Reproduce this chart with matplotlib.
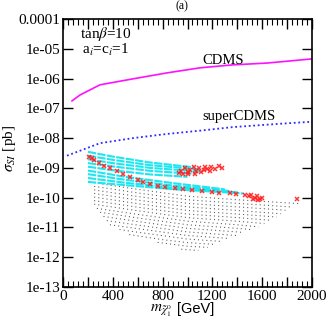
import numpy as np
import matplotlib
matplotlib.use('Agg')
import matplotlib.pyplot as plt
from matplotlib.ticker import FixedLocator, FixedFormatter, MultipleLocator, LogLocator, NullFormatter

plt.rcParams['font.family'] = 'Liberation Serif'
plt.rcParams['mathtext.fontset'] = 'stix'

# limit curves (mass in GeV, log10 of sigma in pb)
cdms_m = [72, 137, 297, 562, 835, 1100, 1365, 1638, 2000]
cdms_log = [-6.75, -6.55, -6.21, -6.01, -5.81, -5.64, -5.54, -5.48, -5.34]

scdms_m = [32, 297, 562, 835, 1100, 1365, 1735, 2000]
scdms_log = [-8.59, -8.17, -8.00, -7.86, -7.75, -7.63, -7.52, -7.45]

# cyan scan lines
cyan_m = [[200, 400, 700, 1050], [200, 400, 700, 1100], [200, 400, 700, 1100],
          [200, 400, 700, 1050], [200, 400, 700, 1000],
          [200, 500, 900, 1300], [200, 500, 900, 1350], [200, 500, 900, 1400],
          [200, 500, 900, 1450]]
cyan_log = [[-8.46, -8.62, -8.82, -8.98], [-8.59, -8.73, -8.91, -9.05], [-8.71, -8.84, -9.00, -9.12],
            [-8.84, -8.95, -9.10, -9.20], [-8.96, -9.08, -9.22, -9.30],
            [-9.09, -9.30, -9.52, -9.72], [-9.21, -9.40, -9.60, -9.78], [-9.34, -9.50, -9.67, -9.82],
            [-9.47, -9.58, -9.72, -9.86]]

# red points
red_m = [210, 230, 250, 290, 330, 380, 430, 480, 540, 600, 640, 700, 760, 820, 900, 960, 1040, 1120, 1200,
         1250, 1340, 1390,
         930, 950, 980, 1000, 1020, 1050, 1070, 1090, 1110, 1140, 1160, 1190, 1220, 1250, 1280, 1000, 1060, 1130,
         960, 1180,
         1460, 1490, 1510, 1540, 1560, 1580, 1600, 1530, 1570, 1880]
red_log = [-8.64, -8.68, -8.72, -8.82, -8.92, -9.02, -9.12, -9.22, -9.32, -9.40, -9.47, -9.55, -9.60, -9.64,
           -9.68, -9.72, -9.74, -9.78, -9.82, -9.85, -9.84, -9.86,
           -9.18, -9.10, -9.02, -9.15, -9.06, -8.98, -9.10, -9.02, -9.14, -8.96, -9.05, -8.98, -9.04, -8.95,
           -9.00, -9.22, -9.20, -9.08,
           -9.20, -9.10,
           -9.92, -9.96, -9.90, -10.00, -9.95, -10.04, -10.00, -10.05, -10.08, -10.04]

# black scan lines
black_m = [[250, 600, 1000, 1400, 1900], [250, 600, 1000, 1400, 1823], [250, 600, 1000, 1400, 1787],
           [250, 600, 1000, 1400, 1751], [250, 600, 1000, 1400, 1715], [250, 600, 1000, 1400, 1667],
           [250, 600, 1000, 1400, 1618], [272, 600, 1000, 1400, 1570], [298, 600, 1000, 1400, 1512],
           [325, 600, 1000, 1400, 1452], [351, 600, 1000, 1391], [377, 600, 1000, 1332],
           [454, 600, 1000, 1277], [532, 800, 1000, 1222], [760, 1000, 1164], [950, 1000, 1087]]
black_log = [[-9.50, -9.72, -9.95, -10.07, -10.20], [-9.62, -9.84, -10.07, -10.19, -10.31],
             [-9.74, -9.96, -10.19, -10.31, -10.42], [-9.86, -10.08, -10.31, -10.43, -10.54],
             [-9.98, -10.20, -10.43, -10.55, -10.65], [-10.10, -10.32, -10.55, -10.67, -10.76],
             [-10.22, -10.44, -10.67, -10.79, -10.87], [-10.36, -10.56, -10.79, -10.91, -10.98],
             [-10.49, -10.68, -10.91, -11.03, -11.07], [-10.63, -10.80, -11.03, -11.15, -11.17],
             [-10.77, -10.92, -11.15, -11.27], [-10.91, -11.04, -11.27, -11.37],
             [-11.07, -11.16, -11.39, -11.47], [-11.24, -11.41, -11.51, -11.57],
             [-11.50, -11.63, -11.67], [-11.73, -11.75, -11.77]]

ytick_vals = [1e-13, 1e-12, 1e-11, 1e-10, 1e-09, 1e-08, 1e-07, 1e-06, 1e-05, 1e-04]
ytick_labels = ['1e-13', '1e-12', '1e-11', '1e-10', '1e-09', '1e-08', '1e-07', '1e-06', '1e-05', '0.0001']
xtick_vals = [0, 400, 800, 1200, 1600, 2000]

fig = plt.figure(figsize=(3.27, 3.27), dpi=100)
ax = fig.add_axes([0.1927, 0.1223, 0.7614, 0.8196])

for mm, ll in zip(black_m, black_log):
    ax.plot(mm, 10.0 ** np.array(ll), color='#505050', lw=0.75, ls=(0, (1, 3.0)))
for mm, ll in zip(cyan_m, cyan_log):
    ax.plot(mm, 10.0 ** np.array(ll), color='#1ee6f0', lw=1.5, ls=(0, (4, 0.6)))
ax.plot(red_m, 10.0 ** np.array(red_log), 'x', color='#ff2020', ms=2.2, mew=1.1, alpha=0.9)

ax.plot(cdms_m, 10.0 ** np.array(cdms_log), color='#ff10ff', lw=1.2)
ax.plot(scdms_m, 10.0 ** np.array(scdms_log), color='#2a2aff', lw=1.3, ls=(0, (1, 1.5)))

ax.set_yscale('log')
ax.set_xlim(0, 2000)
ax.set_ylim(1e-13, 1e-4)

ax.yaxis.set_major_locator(FixedLocator(ytick_vals))
ax.yaxis.set_major_formatter(FixedFormatter(ytick_labels))
ax.yaxis.set_minor_locator(LogLocator(base=10, subs=np.arange(2, 10)))
ax.yaxis.set_minor_formatter(NullFormatter())

ax.xaxis.set_major_locator(MultipleLocator(200))
ax.xaxis.set_major_formatter(matplotlib.ticker.FuncFormatter(
    lambda v, p: '%d' % v if int(round(v)) in xtick_vals else ''))
ax.xaxis.set_minor_locator(MultipleLocator(40))

ax.tick_params(which='both', direction='in', top=True, right=True, labelsize=11)
ax.tick_params(which='major', length=7, width=1.0, pad=2)
ax.tick_params(which='minor', length=4.5, width=0.8)
for s in ax.spines.values():
    s.set_linewidth(1.2)

ax.text(137, 10 ** -4.50, r'tan$\beta$=10', fontsize=11, va='center', ha='left')
ax.text(153, 10 ** -5.04, r'a$_i$=c$_i$=1', fontsize=11, va='center', ha='left')
ax.text(1285, 10 ** -5.41, 'CDMS', fontsize=10.5, va='center', ha='center')
ax.text(1413, 10 ** -7.26, 'superCDMS', fontsize=10.5, va='center', ha='center')

fig.text(182 / 327, 1 - 6 / 327, '(a)', fontsize=8.5, ha='center', va='center')
fig.text(10 / 327, 1 - 148 / 327, r'$\sigma_{SI}$ [pb]', fontsize=11, rotation=90,
         ha='center', va='center')
fig.text(161 / 327, 1 - 311 / 327, r'$m_{\tilde{\chi}^0_1}$', fontsize=11, ha='center', va='center')
fig.text(196 / 327, 1 - 309 / 327, '[GeV]', fontsize=10.5, family='Liberation Sans',
         ha='center', va='center')

fig.savefig('out.png', dpi=100)
